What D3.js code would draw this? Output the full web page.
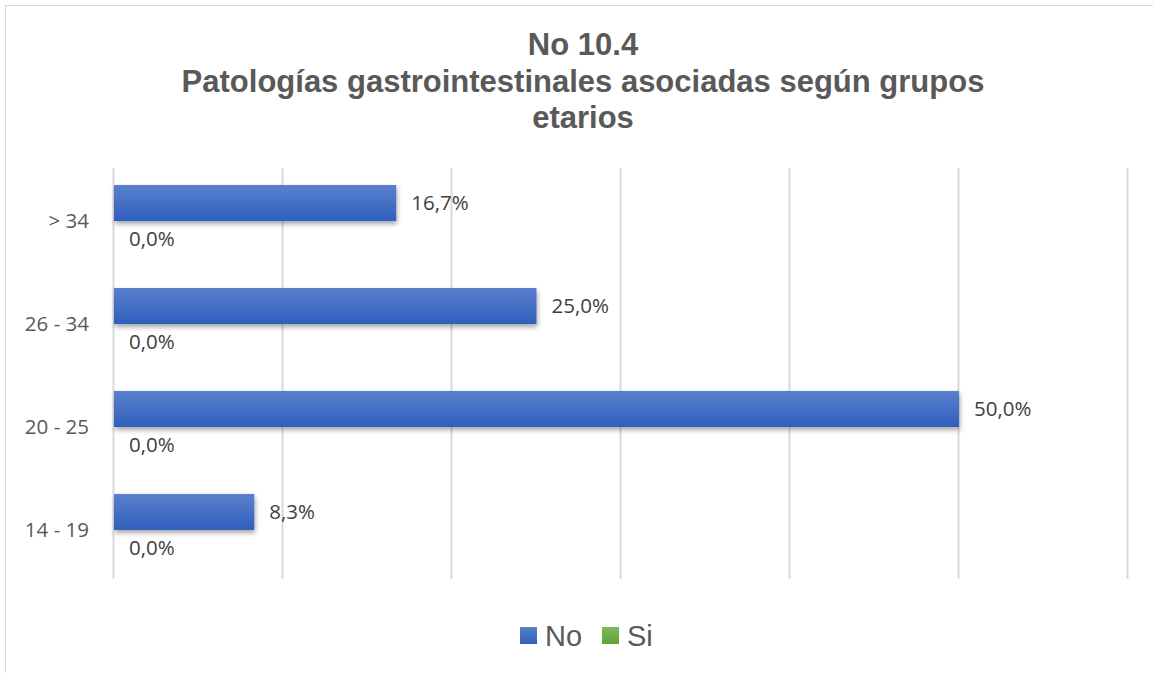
<!DOCTYPE html>
<html>
<head>
<meta charset="utf-8">
<script src="https://cdn.jsdelivr.net/npm/d3@7"></script>
<style>
  body { margin: 0; background: #fff; }
  svg { display: block; }
</style>
</head>
<body>
<div id="chart"></div>
<script>
// data
const categories = ['> 34', '26 - 34', '20 - 25', '14 - 19'];
const seriesNames = ['No', 'Si'];
const noValues = [16.7, 25.0, 50.0, 8.3];
const siValues = [0, 0, 0, 0];
const xTicks = [0, 10, 20, 30, 40, 50, 60];
const titleLines = ['No 10.4', 'Patologías gastrointestinales asociadas según grupos', 'etarios'];

const width = 1153, height = 673;
const plotTop = 168, plotBottom = 579;

const svg = d3.select('#chart').append('svg')
  .attr('width', width)
  .attr('height', height);

const defs = svg.append('defs');
const gradNo = defs.append('linearGradient').attr('id', 'gradNo')
  .attr('x1', 0).attr('y1', 0).attr('x2', 0).attr('y2', 1);
gradNo.append('stop').attr('offset', '0%').attr('stop-color', '#5b80cc');
gradNo.append('stop').attr('offset', '100%').attr('stop-color', '#2f5fbd');
const gradSi = defs.append('linearGradient').attr('id', 'gradSi')
  .attr('x1', 0).attr('y1', 0).attr('x2', 0).attr('y2', 1);
gradSi.append('stop').attr('offset', '0%').attr('stop-color', '#7fb95c');
gradSi.append('stop').attr('offset', '100%').attr('stop-color', '#62a035');

const shadow = defs.append('filter').attr('id', 'shadow')
  .attr('x', '-5%').attr('y', '-20%').attr('width', '110%').attr('height', '160%');
shadow.append('feDropShadow')
  .attr('dx', 1).attr('dy', 3).attr('stdDeviation', 2.5)
  .attr('flood-color', '#000').attr('flood-opacity', 0.35);

// frame
svg.append('rect')
  .attr('x', 5.5).attr('y', 5.5)
  .attr('width', width + 10).attr('height', height + 10)
  .attr('fill', '#fff').attr('stroke', '#d9d9d9');

// title
svg.append('text')
  .attr('text-anchor', 'middle')
  .style('font-family', 'Liberation Sans, Arial, sans-serif')
  .style('font-weight', 'bold')
  .style('font-size', '31px')
  .attr('fill', '#595959')
  .selectAll('tspan')
  .data(titleLines)
  .join('tspan')
  .attr('x', 583)
  .attr('y', (d, i) => 55 + i * 36.5)
  .text(d => d);

const x = d3.scaleLinear()
  .domain([0, 60])
  .range([114, 1128]);

const y = d3.scaleBand()
  .domain(categories)
  .range([plotTop, 583])
  .paddingInner(0.3)
  .paddingOuter(0.165);

const ySub = d3.scaleBand()
  .domain(seriesNames)
  .range([0, y.bandwidth()]);

// gridlines
svg.append('g')
  .selectAll('line')
  .data(xTicks)
  .join('line')
  .attr('x1', d => Math.round(x(d)) - 0.5)
  .attr('x2', d => Math.round(x(d)) - 0.5)
  .attr('y1', plotTop)
  .attr('y2', plotBottom)
  .attr('stroke', '#d9d9d9')
  .attr('stroke-width', 2);

// category axis labels
svg.append('g')
  .selectAll('text')
  .data(categories)
  .join('text')
  .attr('x', 89)
  .attr('y', d => y(d) + y.bandwidth() / 2)
  .attr('dy', '0.35em')
  .attr('text-anchor', 'end')
  .style('font-family', 'Open Sans, sans-serif')
  .style('font-size', '20.5px')
  .attr('fill', '#595959')
  .text(d => d);

const rows = categories.map((c, i) => ({cat: c, No: noValues[i], Si: siValues[i]}));

const groups = svg.append('g')
  .selectAll('g')
  .data(rows)
  .join('g')
  .attr('transform', d => `translate(0,${y(d.cat)})`);

groups.selectAll('rect')
  .data(d => seriesNames.map(s => ({key: s, value: d[s]})))
  .join('rect')
  .attr('x', x(0))
  .attr('y', d => ySub(d.key))
  .attr('width', d => x(d.value) - x(0))
  .attr('height', ySub.bandwidth())
  .attr('fill', d => d.key === 'No' ? 'url(#gradNo)' : 'url(#gradSi)')
  .attr('filter', 'url(#shadow)');

groups.selectAll('text')
  .data(d => seriesNames.map(s => ({key: s, value: d[s]})))
  .join('text')
  .attr('x', d => x(d.value) + 15)
  .attr('y', d => ySub(d.key) + ySub.bandwidth() / 2)
  .attr('dy', '0.35em')
  .style('font-family', 'Open Sans, sans-serif')
  .style('font-size', '20.5px')
  .attr('fill', '#404040')
  .text(d => d3.format('.1f')(d.value).replace('.', ',') + '%');

// legend
const legend = svg.append('g').attr('transform', 'translate(520,627)');
const legendItems = [
  {name: 'No', fill: 'url(#gradNo)', x: 0},
  {name: 'Si', fill: 'url(#gradSi)', x: 82}
];
legendItems.forEach(item => {
  legend.append('rect')
    .attr('x', item.x).attr('y', 0)
    .attr('width', 17).attr('height', 17)
    .attr('fill', item.fill);
  legend.append('text')
    .attr('x', item.x + 25).attr('y', 9)
    .attr('dy', '0.36em')
    .style('font-family', 'Liberation Sans, Arial, sans-serif')
    .style('font-size', '29px')
    .attr('fill', '#595959')
    .text(item.name);
});
</script>
</body>
</html>
